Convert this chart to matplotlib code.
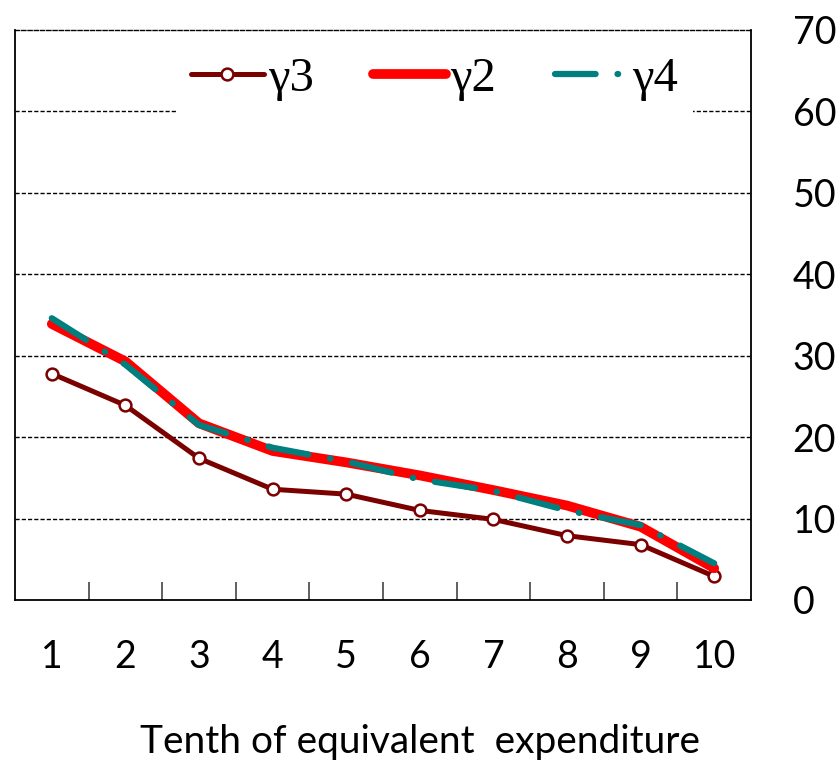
import matplotlib
matplotlib.use("Agg")
import matplotlib.pyplot as plt
import numpy as np

categories = ["1", "2", "3", "4", "5", "6", "7", "8", "9", "10"]
gamma3 = [27.8, 23.9, 17.4, 13.6, 13.0, 11.0, 9.9, 7.9, 6.8, 2.9]
gamma2 = [33.9, 29.3, 21.7, 18.3, 16.9, 15.3, 13.5, 11.6, 9.0, 3.9]
gamma4 = [34.6, 28.9, 21.5, 18.7, 17.0, 14.8, 13.4, 11.0, 9.2, 4.5]
yticks = [0, 10, 20, 30, 40, 50, 60, 70]

W, H = 836, 761
fig = plt.figure(figsize=(W / 100, H / 100), dpi=100)
ax = fig.add_axes([15 / W, (H - 600) / H, (751 - 15) / W, (600 - 30) / H])

x = np.arange(1, len(categories) + 1)

ax.plot(x, gamma3, color="#7B0000", lw=3.6, marker="o", ms=8.5,
        mfc="white", mec="#7B0000", mew=1.8, label="γ3", zorder=3,
        solid_capstyle="round")
ax.plot(x, gamma2, color="#FF0000", lw=7, label="γ2", zorder=4,
        solid_capstyle="round")
ax.plot(x, gamma4, color="#007F7F", lw=4.5, dashes=(6.5, 3.5, 0.1, 3.5),
        dash_capstyle="round", label="γ4", zorder=5)

ax.set_xlim(0.5, 10.5)
ax.set_ylim(0, 70)

ax.set_yticks(yticks)
ax.yaxis.tick_right()
ax.tick_params(axis="y", length=0, pad=30, labelsize=27)
for lab in ax.get_yticklabels():
    lab.set_fontfamily(["Lato", "DejaVu Sans"])
    lab.set_horizontalalignment("left")

ax.set_xticks(x)
ax.set_xticklabels(categories, fontfamily=["Lato", "DejaVu Sans"])
ax.tick_params(axis="x", which="major", length=0, pad=28, labelsize=27)
ax.set_xticks(np.arange(1.5, 10.5, 1), minor=True)
ax.tick_params(axis="x", which="minor", direction="in", length=13,
               width=1.2, color="#444444")

for v in yticks[1:-1]:
    ax.axhline(v, color="black", lw=1, ls=(0, (3, 1.5)), zorder=1)

ax.spines["top"].set_linestyle((0, (3, 1.5)))
ax.spines["top"].set_linewidth(1)
for s in ["left", "right", "bottom"]:
    ax.spines[s].set_linewidth(1.3)

leg = ax.legend(loc="upper center", bbox_to_anchor=(0.57, 0.995), ncol=3,
                frameon=True, facecolor="white", edgecolor="none", framealpha=1,
                prop={"family": ["Liberation Serif"], "size": 35},
                handlelength=1.5, handletextpad=0.1, columnspacing=1.2,
                borderpad=0.3, borderaxespad=0.2, fancybox=False)
leg.set_zorder(10)

fig.text(420 / W, (H - 742) / H, "Tenth of equivalent  expenditure",
         ha="center", va="center", fontsize=28,
         fontfamily=["Lato", "DejaVu Sans"])

fig.savefig("out.png", dpi=100, facecolor="white")
